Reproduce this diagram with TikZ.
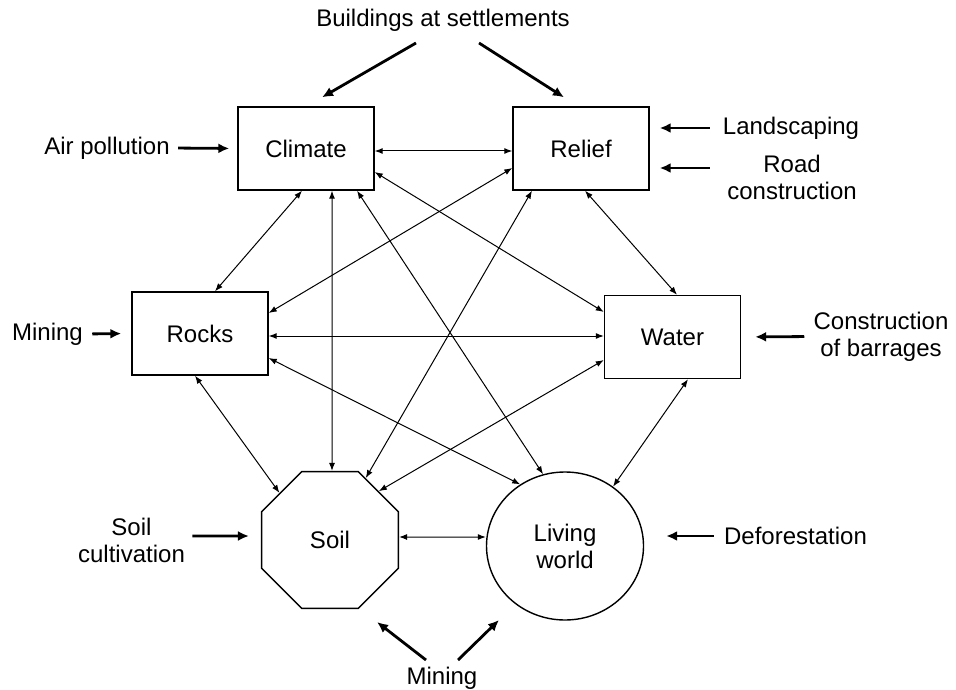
\documentclass[tikz,border=0pt]{standalone}
\usepackage{fontspec}
\setmainfont{Liberation Sans}
\usetikzlibrary{shapes.geometric,arrows.meta}

\begin{document}
\begin{tikzpicture}[x=0.5pt,y=-0.5pt,
  every node/.style={font=\fontsize{12}{13.5}\selectfont},
  box/.style={draw,line width=0.7pt,minimum width=68pt,minimum height=41.5pt,inner sep=0pt},
  outside/.style={inner sep=0pt,align=center},
  link/.style={line width=0.5pt,{Latex[length=4pt,width=3pt]}-{Latex[length=4pt,width=3pt]}},
  push/.style={line width=1.4pt,-{Latex[length=5.5pt,width=5pt]}}]
\useasboundingbox (0,0) rectangle (956,689);

\node[box] (climate) at (306,148.5) {Climate};
\node[box] (relief) at (581,148.5) {Relief};
\node[box] (rocks) at (200,333.5) {Rocks};
\node[box] (water) at (672.5,337) {Water};
\node[draw,regular polygon,regular polygon sides=8,minimum size=74pt,inner sep=0pt,line width=0.7pt] (soil) at (330,540) {Soil};
\node[draw,ellipse,minimum width=78.5pt,minimum height=74pt,inner sep=0pt,align=center,line width=0.7pt] (living) at (565,546) {Living\\world};

\node[outside] (build) at (443,20) {Buildings at settlements};
\node[outside] (airpol) at (107,148) {Air pollution};
\node[outside] (landsc) at (791,128) {Landscaping};
\node[outside] (road) at (792,177) {Road\\construction};
\node[outside] (mining1) at (47.5,334) {Mining};
\node[outside] (barrage) at (881,336.5) {Construction\\of barrages};
\node[outside] (soilcult) at (131.5,540) {Soil\\cultivation};
\node[outside] (defor) at (795.5,536) {Deforestation};
\node[outside] (mining2) at (442,678) {Mining};

% ends of the free arrows
\coordinate (bs1) at (416,43); \coordinate (bs2) at (479,43);
\coordinate (mn1) at (426,660); \coordinate (mn2) at (458,660);
\coordinate (mt1) at (377,622); \coordinate (mt2) at (499,620);

% human impacts
\draw[push] (bs1) -- ([xshift=8pt,yshift=4.5pt]climate.north);
\draw[push] (bs2) -- ([xshift=-8.5pt,yshift=4.5pt]relief.north);
\draw[push,shorten <=4pt,shorten >=4pt] (airpol.east) -- (climate.west);
\draw[push,shorten <=6.5pt,shorten >=5pt] (landsc.west) -- ([yshift=10.25pt]relief.east);
\draw[push,shorten <=8.5pt,shorten >=5pt] ([yshift=4.5pt]road.west) -- ([yshift=-9.75pt]relief.east);
\draw[push,shorten <=4.5pt,shorten >=5pt] (mining1.east) -- (rocks.west);
\draw[push,shorten <=4.5pt,shorten >=7pt] (barrage.west) -- (water.east);
\draw[push,shorten <=3.5pt,shorten >=6pt] ([yshift=2pt]soilcult.east) -- ([yshift=2pt]soil.west);
\draw[push,shorten <=5pt,shorten >=11pt] (defor.west) -- (defor.west -| living.east);
\draw[push] (mn1) -- (mt1);
\draw[push] (mn2) -- (mt2);

% links between the components
\draw[link] ([yshift=-1.25pt]climate.east) -- ([yshift=-1.25pt]relief.west);
\draw[link] ([yshift=-11.75pt]climate.east) -- ([yshift=12.5pt]water.west);
\draw[link] ([xshift=-2pt]climate.south) -- ([xshift=7.5pt]rocks.north);
\draw[link] ([xshift=13pt]climate.south) -- ([xshift=1pt]soil.north);
\draw[link] ([xshift=25.5pt]climate.south) -- (living.107);
\draw[link] ([yshift=-9.75pt]relief.west) -- ([yshift=10.25pt]rocks.east);
\draw[link] ([xshift=-24.5pt]relief.south) -- (soil.60);
\draw[link] ([xshift=2pt]relief.south) -- ([xshift=2.25pt]water.north);
\draw[link] ([yshift=-1.25pt]rocks.east) -- ([yshift=0.5pt]water.west);
\draw[link] ([yshift=-12.25pt]rocks.east) -- (living.126);
\draw[link] ([xshift=-2.5pt]rocks.south) -- (soil.137);
\draw[link] ([yshift=-11.5pt]water.west) -- (soil.45);
\draw[link] ([xshift=7.75pt]water.south) -- (living.51);
\draw[link] ([yshift=1.5pt]soil.east) -- ([yshift=4.5pt]living.west);
\end{tikzpicture}
\end{document}
